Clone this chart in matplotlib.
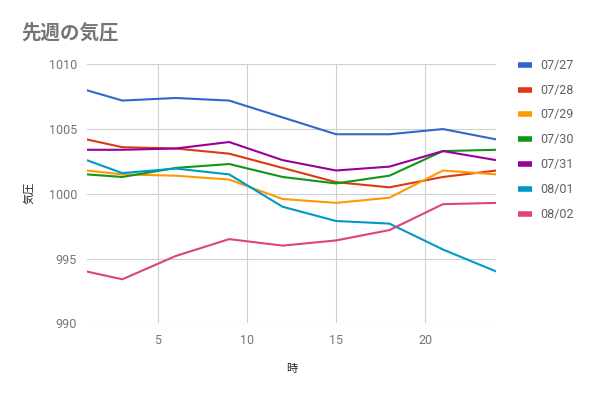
import numpy as np
import matplotlib.pyplot as plt

# ----------------------
# Data: hourly pressure readings (every 3 h) for last week
# ----------------------
hours = [1, 3, 6, 9, 12, 15, 18, 21, 24]
days = ['07/27', '07/28', '07/29', '07/30', '07/31', '08/01', '08/02']

p_0727 = [1008.0, 1007.2, 1007.4, 1007.2, 1005.9, 1004.6, 1004.6, 1005.0, 1004.2]
p_0728 = [1004.2, 1003.6, 1003.5, 1003.1, 1002.0, 1000.9, 1000.5, 1001.3, 1001.8]
p_0729 = [1001.8, 1001.5, 1001.4, 1001.1, 999.6, 999.3, 999.7, 1001.8, 1001.5]
p_0730 = [1001.5, 1001.3, 1002.0, 1002.3, 1001.3, 1000.8, 1001.4, 1003.3, 1003.4]
p_0731 = [1003.4, 1003.4, 1003.5, 1004.0, 1002.6, 1001.8, 1002.1, 1003.3, 1002.6]
p_0801 = [1002.6, 1001.6, 1001.95, 1001.5, 999.0, 997.9, 997.7, 995.7, 994.0]
p_0802 = [994.0, 993.4, 995.2, 996.5, 996.0, 996.4, 997.2, 999.2, 999.3]

series = [p_0727, p_0728, p_0729, p_0730, p_0731, p_0801, p_0802]
colors = ['#3366cc', '#dc3912', '#ff9900', '#109618', '#990099', '#0099c6', '#dd4477']

plt.rcParams['font.family'] = ['Roboto', 'Noto Sans CJK JP', 'DejaVu Sans']

fig = plt.figure(figsize=(5.91, 3.97), dpi=100)
ax = fig.add_axes([0.1467, 0.1856, 0.6931, 0.6524])

for vals, c, lab in zip(series, colors, days):
    ax.plot(hours, vals, color=c, lw=1.5, label=lab, solid_joinstyle='miter')

ax.set_xlim(1, 24)
ax.set_ylim(990, 1010)
ax.set_xticks([5, 10, 15, 20])
ax.set_yticks([990, 995, 1000, 1005, 1010])
ax.grid(True, color='#d0d0d0', lw=0.8)
ax.set_axisbelow(True)
for s in ax.spines.values():
    s.set_visible(False)
ax.tick_params(length=0, colors='#757575', labelsize=9, pad=7)
ax.tick_params(axis='x', pad=8)

fig.text(0.036, 0.917, '先週の気圧', fontsize=14, fontweight='bold', color='#757575',
         family=['Noto Sans CJK JP'], va='center', ha='left')
fig.text(0.049, 0.514, '気圧', fontsize=8, color='#222222', rotation=90,
         family=['Noto Sans CJK JP'], va='center', ha='center')
fig.text(0.493, 0.07, '時', fontsize=8, color='#222222',
         family=['Noto Sans CJK JP'], va='center', ha='center')

leg = ax.legend(loc='upper left', bbox_to_anchor=(1.025, 1.065), frameon=False,
                fontsize=9, handlelength=1.1, handleheight=0.5, labelspacing=0.95,
                handletextpad=0.7)
for line in leg.get_lines():
    line.set_linewidth(4)
    line.set_solid_capstyle('butt')
for t in leg.get_texts():
    t.set_color('#616161')

fig.savefig('out.png', dpi=100)
